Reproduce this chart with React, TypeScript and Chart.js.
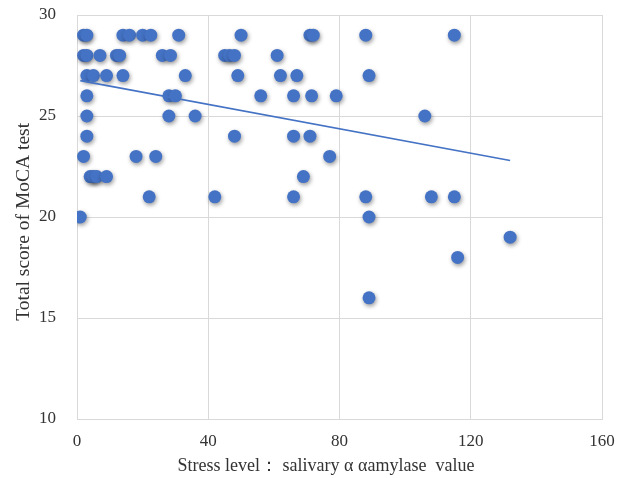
import React, { useEffect, useRef } from "react";
import { Chart, registerables } from "chart.js";

Chart.register(...registerables);

const amylase: number[] = [
  2, 3, 14, 16, 20, 22.5, 31, 50, 71, 72, 88, 115,
  2, 3, 7, 12, 13, 26, 28.5, 45, 46.5, 48, 61,
  3, 5, 9, 14, 33, 49, 62, 67, 89,
  3, 28, 30, 56, 66, 71.5, 79,
  3, 28, 36, 106,
  3, 48, 66, 71,
  2, 18, 24, 77,
  4, 5, 6, 9, 69,
  22, 42, 66, 88, 108, 115,
  1, 89,
  132,
  116,
  89,
];

const moca: number[] = [
  29, 29, 29, 29, 29, 29, 29, 29, 29, 29, 29, 29,
  28, 28, 28, 28, 28, 28, 28, 28, 28, 28, 28,
  27, 27, 27, 27, 27, 27, 27, 27, 27,
  26, 26, 26, 26, 26, 26, 26,
  25, 25, 25, 25,
  24, 24, 24, 24,
  23, 23, 23, 23,
  22, 22, 22, 22, 22,
  21, 21, 21, 21, 21, 21,
  20, 20,
  19,
  18,
  16,
];

const trendX: number[] = [1, 132];
const trendY: number[] = [26.75, 22.8];

const xTicks: number[] = [0, 40, 80, 120, 160];
const yTicks: number[] = [10, 15, 20, 25, 30];

const xTitle = "Stress level\uFF1A salivary \u03B1 \u03B1amylase  value      ";
const yTitle = "Total score of MoCA test  ";

const BLUE = "#4472C4";
const TEXT = "#333333";
const FONT = "'Liberation Serif', 'Times New Roman', serif";

const shadowPlugin = {
  id: "pointShadow",
  beforeDatasetDraw(chart: any, args: any) {
    if (args.index === 0) {
      const ctx = chart.ctx;
      ctx.save();
      ctx.shadowColor = "rgba(0,0,0,0.4)";
      ctx.shadowBlur = 4;
      ctx.shadowOffsetX = 1;
      ctx.shadowOffsetY = 2;
    }
  },
  afterDatasetDraw(chart: any, args: any) {
    if (args.index === 0) {
      chart.ctx.restore();
    }
  },
};

export default function App() {
  const ref = useRef<HTMLCanvasElement | null>(null);

  useEffect(() => {
    if (!ref.current) return;
    const points = amylase.map((x, i) => ({ x, y: moca[i] }));
    const trend = trendX.map((x, i) => ({ x, y: trendY[i] }));
    const chart = new Chart(ref.current, {
      type: "scatter",
      data: {
        datasets: [
          {
            data: points,
            backgroundColor: BLUE,
            borderWidth: 0,
            pointRadius: 6.5,
            order: 2,
          },
          {
            type: "line",
            data: trend,
            borderColor: BLUE,
            borderWidth: 1.6,
            pointRadius: 0,
            showLine: true,
            fill: false,
            order: 1,
          } as any,
        ],
      },
      plugins: [shadowPlugin],
      options: {
        animation: false,
        responsive: false,
        maintainAspectRatio: false,
        layout: { padding: { top: 15, right: 16, left: 0, bottom: 0 } },
        plugins: {
          legend: { display: false },
          tooltip: { enabled: false },
        },
        scales: {
          x: {
            type: "linear",
            min: 0,
            max: 160,
            afterBuildTicks: (s: any) => {
              s.ticks = xTicks.map((v) => ({ value: v }));
            },
            afterFit: (s: any) => {
              s.height = 59;
              s.paddingLeft = 0;
              s.paddingRight = 0;
            },
            grid: { color: "#d9d9d9", drawTicks: false },
            border: { color: "#d9d9d9" },
            ticks: {
              padding: 12,
              color: TEXT,
              font: { family: FONT, size: 17 },
            },
            title: {
              display: true,
              text: xTitle,
              color: TEXT,
              font: { family: FONT, size: 18 },
              padding: { top: 0, bottom: 1 },
            },
          },
          y: {
            type: "linear",
            min: 10,
            max: 30,
            afterBuildTicks: (s: any) => {
              s.ticks = yTicks.map((v) => ({ value: v }));
            },
            afterFit: (s: any) => {
              s.width = 77;
              s.paddingTop = 0;
              s.paddingBottom = 0;
            },
            grid: { color: "#d9d9d9", drawTicks: false },
            border: { color: "#d9d9d9" },
            ticks: {
              padding: 21,
              color: TEXT,
              font: { family: FONT, size: 17 },
            },
            title: {
              display: true,
              text: yTitle,
              color: TEXT,
              font: { family: FONT, size: 19.5 },
              padding: { top: 12, bottom: 0 },
            },
          },
        },
      },
    });
    return () => chart.destroy();
  }, []);

  return (
    <div style={{ position: "absolute", left: 0, top: 0, width: 618, height: 478 }}>
      <canvas ref={ref} width={618} height={478} style={{ width: 618, height: 478 }} />
    </div>
  );
}
